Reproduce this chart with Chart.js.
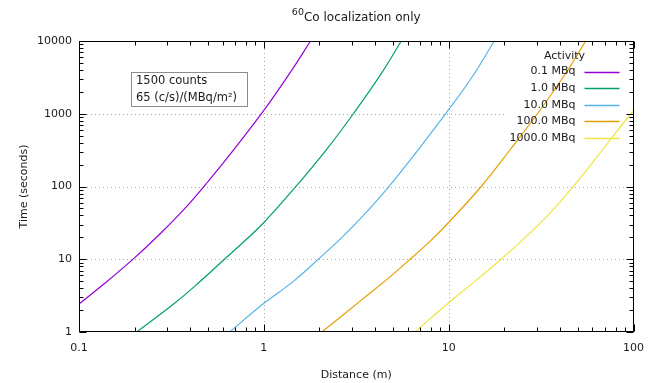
<!DOCTYPE html>
<html>
<head>
<meta charset="utf-8">
<script src="https://cdn.jsdelivr.net/npm/chart.js@4/dist/chart.umd.min.js"></script>
<style>
html, body { margin: 0; padding: 0; background: #fff; }
#wrap { width: 654px; height: 383px; }
</style>
</head>
<body>
<div id="wrap"><canvas id="chart" width="654" height="383"></canvas></div>
<script>
// values (log-log)
const seriesLabels = ['0.1 MBq', '1.0 MBq', '10.0 MBq', '100.0 MBq', '1000.0 MBq'];
const seriesColors = ['#9400d3', '#009e73', '#56b4e9', '#e69f00', '#f0e442'];

const dist01 = [0.1, 0.139, 0.201, 0.28, 0.374, 0.5, 0.69, 1.0, 1.39, 1.79];
const time01 = [2.43, 4.75, 10.6, 23.5, 50, 118, 325, 1110, 3700, 10000];
const dist1 = [0.205, 0.33, 0.45, 0.602, 0.8, 1.0, 1.48, 2.2, 3.05, 4.3, 5.54];
const time1 = [1, 2.5, 4.9, 9.6, 18.5, 32, 98, 330, 1000, 3500, 10000];
const dist10 = [0.654, 1.0, 1.45, 2.02, 2.7, 3.46, 4.72, 6.9, 9.93, 13.5, 17.65];
const time10 = [1, 2.48, 5.0, 10.6, 21, 40, 98, 330, 1110, 3300, 10000];
const dist100 = [2.06, 3.46, 4.6, 6.05, 8.0, 9.93, 15.0, 21.5, 30.2, 42, 55.2];
const time100 = [1, 2.9, 5.2, 9.5, 18, 31.5, 100, 320, 1000, 3300, 10000];
const dist1000 = [6.58, 9.93, 14.2, 19.2, 26, 34.4, 46.9, 68, 96.6, 100];
const time1000 = [1, 2.48, 5.2, 10.0, 20, 40, 98, 320, 1000, 1080];

const xTicks = [0.1, 1, 10, 100];
const xTickLabels = ['0.1', '1', '10', '100'];
const yTicks = [1, 10, 100, 1000, 10000];
const yTickLabels = ['1', '10', '100', '1000', '10000'];
const xGrid = [1, 10];
const yGrid = [10, 100, 1000];

const noteLines = ['1500 counts', '65 (c/s)/(MBq/m\u00b2)'];

const FONT = "'DejaVu Sans', Verdana, sans-serif";

function pairs(xs, ys) {
    return xs.map((v, i) => ({ x: v, y: ys[i] }));
}

const allDist = [dist01, dist1, dist10, dist100, dist1000];
const allTime = [time01, time1, time10, time100, time1000];

const datasets = seriesLabels.map((label, i) => ({
    label: label,
    data: pairs(allDist[i], allTime[i]),
    borderColor: seriesColors[i],
    backgroundColor: seriesColors[i],
    borderWidth: 1.2,
    pointRadius: 0,
    tension: 0.4,
    clip: 0
}));

// minor/major tick values for a log axis
function logTicks(min, max) {
    const out = [];
    for (let e = Math.floor(Math.log10(min)); e <= Math.ceil(Math.log10(max)); e++) {
        for (let k = 1; k <= 9; k++) {
            const v = k * Math.pow(10, e);
            if (v >= min * 0.999 && v <= max * 1.001) out.push({ v: v, major: k === 1 });
        }
    }
    return out;
}

const decorations = {
    id: 'decorations',
    beforeDatasetsDraw(chart) {
        const { ctx, chartArea: a, scales: { x, y } } = chart;
        ctx.save();
        ctx.strokeStyle = '#a6a6a6';
        ctx.lineWidth = 1;
        ctx.setLineDash([1, 3]);
        xGrid.forEach(v => {
            const px = Math.round(x.getPixelForValue(v)) + 0.5;
            ctx.beginPath(); ctx.moveTo(px, a.top); ctx.lineTo(px, a.bottom); ctx.stroke();
        });
        yGrid.forEach(v => {
            const py = Math.round(y.getPixelForValue(v)) + 0.5;
            ctx.beginPath(); ctx.moveTo(a.left, py); ctx.lineTo(a.right, py); ctx.stroke();
        });
        ctx.setLineDash([]);
        // key box is opaque over the grid
        ctx.fillStyle = '#fff';
        ctx.fillRect(a.right - 128, a.top + 1, 127, 104);
        ctx.restore();
    },
    afterDatasetsDraw(chart) {
        const { ctx, chartArea: a, scales: { x, y } } = chart;
        ctx.save();

        // frame
        ctx.strokeStyle = '#000';
        ctx.lineWidth = 1;
        const L = Math.round(a.left) + 0.5, R = Math.round(a.right) - 0.5;
        const T = Math.round(a.top) + 0.5, B = Math.round(a.bottom) - 0.5;
        ctx.strokeRect(L, T, R - L, B - T);

        // ticks on all four sides, pointing inward
        ctx.beginPath();
        logTicks(x.min, x.max).forEach(t => {
            const len = t.major ? 7 : 4;
            const px = Math.round(x.getPixelForValue(t.v)) + 0.5;
            ctx.moveTo(px, B); ctx.lineTo(px, B - len);
            ctx.moveTo(px, T); ctx.lineTo(px, T + len);
        });
        logTicks(y.min, y.max).forEach(t => {
            const len = t.major ? 7 : 4;
            const py = Math.round(y.getPixelForValue(t.v)) + 0.5;
            ctx.moveTo(L, py); ctx.lineTo(L + len, py);
            ctx.moveTo(R, py); ctx.lineTo(R - len, py);
        });
        ctx.stroke();

        // key
        ctx.font = '11px ' + FONT;
        ctx.fillStyle = '#1a1a1a';
        ctx.textBaseline = 'middle';
        ctx.textAlign = 'center';
        ctx.fillText('Activity', a.right - 69, a.top + 15.5);
        ctx.textAlign = 'right';
        chart.data.datasets.forEach((ds, i) => {
            const ry = a.top + 30.5 + i * 16.6;
            ctx.fillStyle = '#1a1a1a';
            ctx.fillText(ds.label, a.right - 58, ry);
            ctx.strokeStyle = ds.borderColor;
            ctx.lineWidth = 1.5;
            ctx.beginPath();
            ctx.moveTo(a.right - 49, Math.round(ry) + 0.5);
            ctx.lineTo(a.right - 14, Math.round(ry) + 0.5);
            ctx.stroke();
        });

        // note box
        ctx.strokeStyle = '#8c8c8c';
        ctx.lineWidth = 1;
        ctx.strokeRect(131.5, 72.5, 116, 34);
        ctx.font = '11.5px ' + FONT;
        ctx.fillStyle = '#1a1a1a';
        ctx.textAlign = 'left';
        ctx.textBaseline = 'alphabetic';
        ctx.fillText(noteLines[0], 136, 84);
        ctx.fillText(noteLines[1], 136, 101);

        ctx.restore();
    },
    afterDraw(chart) {
        const { ctx, chartArea: a } = chart;
        ctx.save();
        ctx.fillStyle = '#1a1a1a';
        // title with superscript mass number
        ctx.font = '9.5px ' + FONT;
        const supW = ctx.measureText('60').width;
        ctx.font = '12px ' + FONT;
        const mainW = ctx.measureText('Co localization only').width;
        const x0 = (a.left + a.right) / 2 - (supW + mainW) / 2;
        ctx.textAlign = 'left';
        ctx.textBaseline = 'alphabetic';
        ctx.font = '9.5px ' + FONT;
        ctx.fillText('60', x0, 15);
        ctx.font = '12px ' + FONT;
        ctx.fillText('Co localization only', x0 + supW, 21);

        // axis titles
        ctx.font = '11px ' + FONT;
        ctx.textAlign = 'center';
        ctx.fillText('Distance (m)', (a.left + a.right) / 2, 378);
        ctx.translate(27, (a.top + a.bottom) / 2);
        ctx.rotate(-Math.PI / 2);
        ctx.fillText('Time (seconds)', 0, 0);
        ctx.restore();
    }
};

Chart.defaults.font.family = FONT;
Chart.defaults.color = '#1a1a1a';

new Chart(document.getElementById('chart'), {
    type: 'line',
    data: { datasets: datasets },
    options: {
        responsive: false,
        animation: false,
        devicePixelRatio: 1,
        layout: { padding: { left: 0, right: 18, top: 41, bottom: 0 } },
        plugins: {
            legend: { display: false },
            tooltip: { enabled: false },
            title: { display: false }
        },
        scales: {
            x: {
                type: 'logarithmic',
                min: 0.1,
                max: 100,
                afterBuildTicks: s => { s.ticks = xTicks.map(v => ({ value: v })); },
                afterFit: s => { s.height = 51; },
                grid: { display: false, drawTicks: false },
                border: { display: false },
                ticks: {
                    autoSkip: false,
                    maxRotation: 0,
                    padding: 10,
                    font: { size: 11 },
                    callback: (v, i) => xTickLabels[i]
                }
            },
            y: {
                type: 'logarithmic',
                min: 1,
                max: 10000,
                afterBuildTicks: s => { s.ticks = yTicks.map(v => ({ value: v })); },
                afterFit: s => { s.width = 79; },
                grid: { display: false, drawTicks: false },
                border: { display: false },
                ticks: {
                    autoSkip: false,
                    padding: 7,
                    font: { size: 11 },
                    callback: (v, i) => yTickLabels[i]
                }
            }
        }
    },
    plugins: [decorations]
});
</script>
</body>
</html>
